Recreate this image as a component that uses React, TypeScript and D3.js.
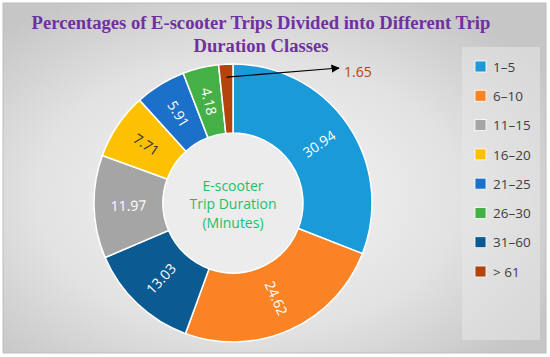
import React from 'react';
import * as d3 from 'd3';

// pie order (clockwise from 12 o'clock)
const sliceLabels = ['1–5', '6–10', '31–60', '11–15', '16–20', '21–25', '26–30', '> 61'];
const sliceValues = [30.94, 24.62, 13.03, 11.97, 7.71, 5.91, 4.18, 1.65];
// legend order
const legendLabels = ['1–5', '6–10', '11–15', '16–20', '21–25', '26–30', '31–60', '> 61'];
const colors: Record<string, string> = {
  '1–5': '#1a9ad8',
  '6–10': '#f98325',
  '11–15': '#a5a5a5',
  '16–20': '#fdc003',
  '21–25': '#1b70c9',
  '26–30': '#45b045',
  '31–60': '#0c5a92',
  '> 61': '#b4440e',
};
const darkText = new Set(['16–20']);

const W = 550;
const H = 357;
const cx = 233;
const cy = 203;
const outerR = 139;
const innerR = 70;

export default function App() {
  const data = sliceLabels.map((k, i) => ({ key: k, value: sliceValues[i] }));
  const pie = d3
    .pie<{ key: string; value: number }>()
    .sort(null)
    .value(d => d.value);
  const arcs = pie(data);
  const arc = d3
    .arc<d3.PieArcDatum<{ key: string; value: number }>>()
    .innerRadius(innerR)
    .outerRadius(outerR);

  const legendY = d3.scalePoint<string>().domain(legendLabels).range([67, 272]);

  const small = arcs[arcs.length - 1];
  const smallMid = (small.startAngle + small.endAngle) / 2;
  const arrowStart: [number, number] = [cx + Math.sin(smallMid) * 126, cy - Math.cos(smallMid) * 126];

  return (
    <svg width={W} height={H} style={{ position: 'absolute', left: 0, top: 0 }}>
      <defs>
        <radialGradient id="bg" cx="45%" cy="55%" r="65%">
          <stop offset="0%" stopColor="#f7f7f7" />
          <stop offset="60%" stopColor="#e2e2e2" />
          <stop offset="100%" stopColor="#c6c6c6" />
        </radialGradient>
        <marker id="arrow" viewBox="0 0 10 10" refX="9" refY="5" markerWidth="7" markerHeight="7" orient="auto">
          <path d="M0,0 L10,5 L0,10 z" fill="#000" />
        </marker>
      </defs>
      <rect x={0} y={0} width={W} height={H} fill="#fff" />
      <rect x={3} y={3} width={543} height={350} fill="url(#bg)" stroke="#bdbdbd" strokeWidth={1} />
      <rect x={462} y={47} width={78} height={293} fill="#e8e8e8" opacity={0.55} />

      <g fontFamily="'Liberation Serif', 'Times New Roman', serif" fontWeight="bold" fill="#7030a0" fontSize={18.6} textAnchor="middle">
        <text x={261} y={29}>Percentages of E-scooter Trips Divided into Different Trip</text>
        <text x={261} y={52}>Duration Classes</text>
      </g>

      <circle cx={cx} cy={cy} r={innerR} fill="#ececec" />
      <g transform={`translate(${cx},${cy})`}>
        {arcs.map(a => (
          <path key={a.data.key} d={arc(a) || ''} fill={colors[a.data.key]} stroke="#fff" strokeWidth={1.5} />
        ))}
        {arcs.slice(0, arcs.length - 1).map(a => {
          const [lx, ly] = arc.centroid(a);
          const deg = (((a.startAngle + a.endAngle) / 2) * 180) / Math.PI;
          const rot = deg < 180 ? deg - 90 : deg - 270;
          return (
            <text
              key={a.data.key}
              transform={`translate(${lx},${ly}) rotate(${rot})`}
              textAnchor="middle"
              dy="0.35em"
              fontFamily="'Open Sans', 'Liberation Sans', sans-serif"
              fontSize={14}
              fill={darkText.has(a.data.key) ? '#333' : '#fff'}
            >
              {a.data.value.toFixed(2)}
            </text>
          );
        })}
      </g>

      <g fontFamily="'Open Sans', 'Liberation Sans', sans-serif" fontSize={14} fill="#1dbf6a" textAnchor="middle">
        <text x={cx} y={191}>E-scooter</text>
        <text x={cx} y={209}>Trip Duration</text>
        <text x={cx} y={228}>(Minutes)</text>
      </g>

      <line x1={arrowStart[0]} y1={arrowStart[1]} x2={339} y2={68} stroke="#000" strokeWidth={1.2} markerEnd="url(#arrow)" />
      <text x={344} y={77} fontFamily="'Open Sans', 'Liberation Sans', sans-serif" fontSize={14} fill="#b4440e">
        {small.data.value.toFixed(2)}
      </text>

      <g fontFamily="'Open Sans', 'Liberation Sans', sans-serif" fontSize={13.5} fill="#404040">
        {legendLabels.map(k => (
          <g key={k} transform={`translate(475,${legendY(k)})`}>
            <rect x={0} y={-6} width={11} height={11} fill={colors[k]} stroke="#fff" strokeWidth={0.8} />
            <text x={18} y={0} dy="0.35em">{k}</text>
          </g>
        ))}
      </g>
    </svg>
  );
}
